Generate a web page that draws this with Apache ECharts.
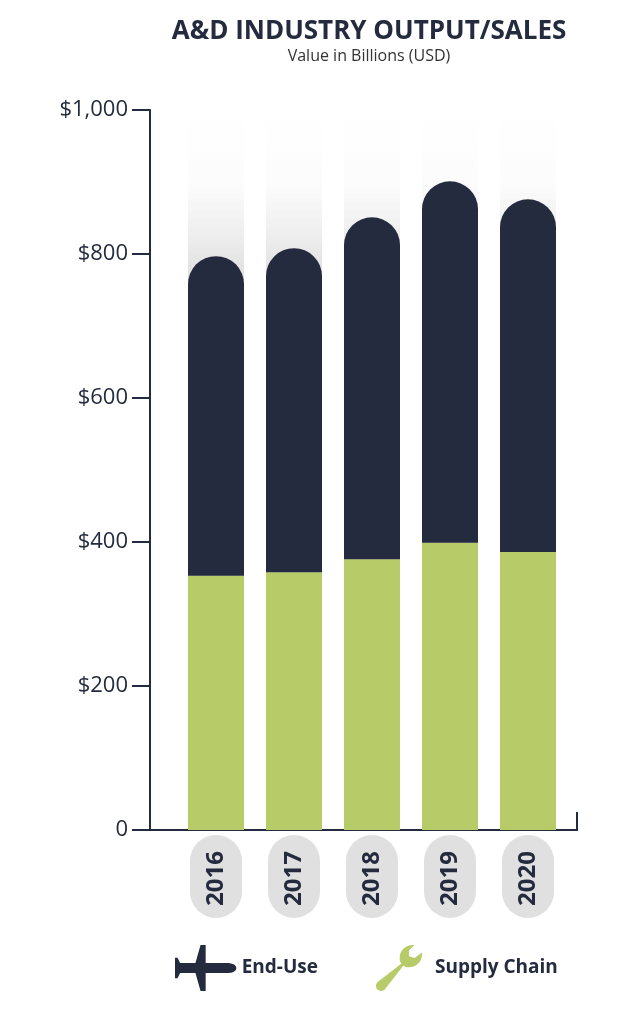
<!DOCTYPE html>
<html><head><meta charset="utf-8">
<script src="https://cdn.jsdelivr.net/npm/echarts@6/dist/echarts.min.js"></script>
<style>html,body{margin:0;background:#fff}#c{width:640px;height:1024px}</style>
</head><body><div id="c"></div>
<script>
const years = ['2016','2017','2018','2019','2020'];
const supplyChain = [353, 358, 376, 399, 386];
const endUse = [444, 450, 475, 502, 490];
const fadeTop = [1000, 1000, 1000, 1000, 1000];

const DARK = '#252b3f', GREEN = '#b8cb69';
const plane = 'path://M2,9 L8,9 L10,2 L12,2 L12,9 L20,9 C23,9 24,10 24,11 C24,12 23,13 20,13 L12,13 L12,20 L10,20 L8,13 L2,13 L1,15 L0,15 L0,7 L1,7 Z';
const wrench = 'path://M20,0 C16,0 13,3 13,7 C13,8 13,9 14,10 L1,20 C0,21 0,23 1,24 C2,25 4,25 5,24 L15,11 C16,12 17,12 18,12 C22,12 25,9 25,5 L25,4 L21,7 L18,6 L18,3 L21,0 Z';

const chart = echarts.init(document.getElementById('c'));
chart.setOption({
  animation:false,
  title:{ text:'A&D INDUSTRY OUTPUT/SALES', subtext:'Value in Billions (USD)', left:364, textAlign:'center', top:14,
    textStyle:{ fontFamily:'Open Sans', fontWeight:'bold', fontSize:26, color:DARK },
    subtextStyle:{ fontFamily:'Open Sans', fontSize:16, color:'#333' }, itemGap:3 },
  legend:{ bottom:28, left:170, itemGap:58, itemWidth:62, itemHeight:46,
    textStyle:{ fontFamily:'Open Sans', fontWeight:'bold', fontSize:19, color:DARK },
    data:[{ name:'End-Use', icon:plane, itemStyle:{color:DARK} },
          { name:'Supply Chain', icon:wrench, itemStyle:{color:GREEN} }] },
  grid:{ left:177, right:73, top:110, bottom:194 },
  xAxis:{ type:'category', data:years,
    axisLine:{ show:false }, axisTick:{ show:false },
    axisLabel:{ rotate:90, margin:5, fontFamily:'Open Sans', fontWeight:'bold', fontSize:24, color:DARK,
      backgroundColor:'#e0e0e0', borderRadius:28, padding:[14,16,14,12], align:'right', verticalAlign:'middle' } },
  yAxis:{ type:'value', min:0, max:1000, interval:200, offset:27,
    axisLine:{ show:true, lineStyle:{ color:DARK, width:2 } },
    axisTick:{ show:true, length:18, lineStyle:{ color:DARK, width:2 } },
    splitLine:{ show:false },
    axisLabel:{ margin:22, fontFamily:'Open Sans', fontSize:22, color:DARK,
      formatter:v => v === 0 ? '0' : '$' + v.toLocaleString('en-US') } },
  graphic:[{ type:'line', shape:{ x1:150, y1:830, x2:578, y2:830 }, style:{ stroke:DARK, lineWidth:2 } },
           { type:'line', shape:{ x1:577, y1:812, x2:577, y2:830 }, style:{ stroke:DARK, lineWidth:2 } }],
  series:[
    { name:'fade', type:'bar', data:fadeTop, barWidth:56, barGap:'-100%', z:1, silent:true,
      itemStyle:{ color:new echarts.graphic.LinearGradient(0,0,0,1,[
        { offset:0, color:'rgba(225,225,225,0)' }, { offset:0.1, color:'rgba(225,225,225,0.1)' },
        { offset:0.25, color:'rgba(215,215,215,0.9)' }, { offset:1, color:'#d8d8d8' }]) } },
    { name:'Supply Chain', type:'bar', stack:'t', data:supplyChain, barWidth:56, z:2, itemStyle:{ color:GREEN } },
    { name:'End-Use', type:'bar', stack:'t', data:endUse, barWidth:56, z:2, itemStyle:{ color:DARK, borderRadius:[28,28,0,0] } }
  ]
});
</script></body></html>
